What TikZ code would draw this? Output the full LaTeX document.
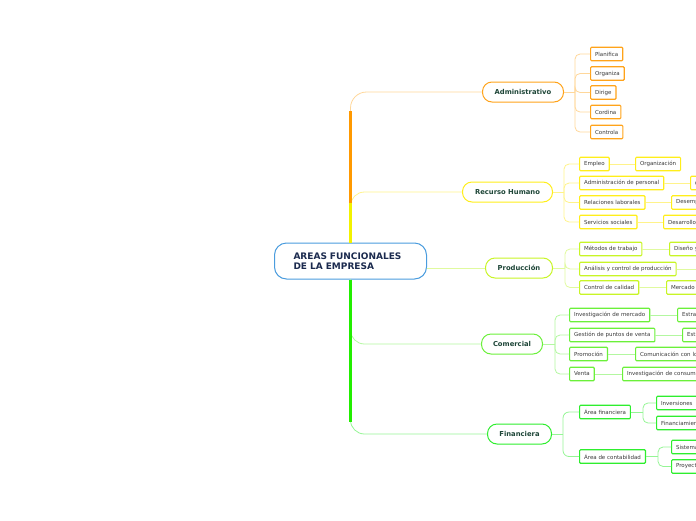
\documentclass[tikz,border=0pt]{standalone}
\usepackage{fontspec}
\setmainfont{DejaVu Sans}
\usetikzlibrary{positioning}

\definecolor{raizcol}{HTML}{4A9CDE}
\definecolor{raiztxt}{HTML}{1B2A4E}
\definecolor{ramatxt}{HTML}{1E4638}
\definecolor{hojatxt}{HTML}{3A3A3A}
\definecolor{admcol}{HTML}{FFA31A}
\definecolor{admclaro}{HTML}{FFD79A}
\definecolor{rhcol}{HTML}{FFEE1A}
\definecolor{rhclaro}{HTML}{FFF38A}
\definecolor{prodcol}{HTML}{C8F526}
\definecolor{prodclaro}{HTML}{E0FA9E}
\definecolor{comcol}{HTML}{6BF03A}
\definecolor{comclaro}{HTML}{B3F7A0}
\definecolor{fincol}{HTML}{2EEE2E}
\definecolor{finclaro}{HTML}{95F595}
\definecolor{troncoN}{HTML}{FF9900}
\definecolor{troncoA}{HTML}{F2F200}
\definecolor{troncoV}{HTML}{22EE00}

\begin{document}
\begin{tikzpicture}[x=1pt,y=-1pt,
  raiz/.style={draw=raizcol,line width=1pt,rounded corners=12pt,fill=white,
    minimum height=36pt,text width=114pt,inner xsep=19pt,align=left,
    font=\fontsize{9}{10.5}\selectfont\bfseries,text=raiztxt,anchor=west},
  rama/.style={draw=#1,line width=1pt,rounded corners=9.5pt,fill=white,
    minimum height=20pt,font=\fontsize{6.8}{8}\selectfont\bfseries,
    text=ramatxt,anchor=west},
  hoja/.style={draw=#1,line width=1.2pt,rounded corners=1pt,fill=white,
    minimum height=13.5pt,inner xsep=4.5pt,inner ysep=1pt,
    font=\fontsize{5.5}{6}\selectfont,text=hojatxt,anchor=west},
  corte/.style={text width=130pt,align=left},
  enlace/.style={draw=#1,line width=0.8pt},
  tronco/.style={draw=#1,line width=2.6pt}]
\useasboundingbox (0,0) rectangle (696,520);
\clip (0,0) rectangle (696,520);

% nodo central
\node[raiz] (raiz) at (274,261) {AREAS FUNCIONALES\\DE LA EMPRESA};

% ramas principales
\node[rama=admcol,minimum width=81pt] (adm) at (482,92) {Administrativo};
\node[rama=rhcol,minimum width=90pt] (rh) at (462,192) {Recurso Humano};
\node[rama=prodcol,minimum width=67pt] (prod) at (485,268) {Producción};
\node[rama=comcol,minimum width=61pt] (com) at (481,344) {Comercial};
\node[rama=fincol,minimum width=64pt] (fin) at (487,434) {Financiera};

% tronco
\draw[enlace=admclaro,rounded corners=16pt] (raiz.north) |- (adm.west);
\draw[enlace=rhclaro,rounded corners=14pt] (raiz.north) |- (rh.west);
\draw[enlace=prodclaro] (raiz.east |- prod.west) -- (prod.west);
\draw[enlace=comclaro,rounded corners=14pt] (raiz.south) |- (com.west);
\draw[enlace=finclaro,rounded corners=14pt] (raiz.south) |- (fin.west);
\draw[tronco=troncoA] (raiz.north) -- ++(0,-40) coordinate (t1);
\draw[tronco=troncoN] (t1) -- ++(0,-92);
\draw[tronco=troncoV] (raiz.south) -- ++(0,142);

% Administrativo
\draw[enlace=admclaro] (adm.east) -- ++(11,0) coordinate (admb);
\foreach \n/\y/\t in {a1/54/Planifica,a2/73.5/Organiza,a3/92.5/Dirige,
                      a4/112/Cordina,a5/132/Controla}{
  \node[hoja=admcol] (\n) at (590,\y) {\t};
  \draw[enlace=admclaro,rounded corners=5pt] (admb) |- (\n.west);
}

% Recurso Humano
\draw[enlace=rhclaro] (rh.east) -- ++(11,0) coordinate (rhb);
\foreach \n/\y/\t in {r1/164/Empleo,r2/183/Administración de personal,
                      r3/202.5/Relaciones laborales,r4/222/Servicios sociales}{
  \node[hoja=rhcol] (\n) at (579,\y) {\t};
  \draw[enlace=rhclaro,rounded corners=5pt] (rhb) |- (\n.west);
}
\node[hoja=rhcol] (r1a) at (635,164) {Organización};
\node[hoja=rhcol,corte] (r2a) at (690,183) {O};
\node[hoja=rhcol,corte] (r3a) at (671,202.5) {Desemp};
\node[hoja=rhcol,corte] (r4a) at (663,222) {Desarrollo};
\foreach \i in {1,...,4}
  \draw[enlace=rhclaro] (r\i.east) -- (r\i a.west);

% Producción
\draw[enlace=prodclaro] (prod.east) -- ++(12,0) coordinate (prodb);
\foreach \n/\y/\t in {p1/249/Métodos de trabajo,
                      p2/269/Análisis y control de producción,
                      p3/287.5/Control de calidad}{
  \node[hoja=prodcol] (\n) at (579,\y) {\t};
  \draw[enlace=prodclaro,rounded corners=5pt] (prodb) |- (\n.west);
}
\node[hoja=prodcol,corte] (p1a) at (669,249) {Diseño y};
\coordinate (p2a) at (700,269);
\node[hoja=prodcol,corte] (p3a) at (666,287.5) {Mercado};
\foreach \i in {1,...,3}
  \draw[enlace=prodclaro] (p\i.east) -- (p\i a.west);

% Comercial
\draw[enlace=comclaro] (com.east) -- ++(12,0) coordinate (comb);
\foreach \n/\y/\t in {c1/315/Investigación de mercado,
                      c2/335/Gestión de puntos de venta,
                      c3/354/Promoción,c4/374/Venta}{
  \node[hoja=comcol] (\n) at (569,\y) {\t};
  \draw[enlace=comclaro,rounded corners=5pt] (comb) |- (\n.west);
}
\node[hoja=comcol,corte] (c1a) at (677,315) {Estra};
\node[hoja=comcol,corte] (c2a) at (682,335) {Est};
\node[hoja=comcol,corte] (c3a) at (635,354) {Comunicación con lo};
\node[hoja=comcol,corte] (c4a) at (622,374) {Investigación de consumi};
\foreach \i in {1,...,4}
  \draw[enlace=comclaro] (c\i.east) -- (c\i a.west);

% Financiera
\draw[enlace=finclaro] (fin.east) -- ++(11,0) coordinate (finb);
\node[hoja=fincol] (f1) at (579,412) {Área financiera};
\node[hoja=fincol] (f2) at (579,456.5) {Área de contabilidad};
\draw[enlace=finclaro,rounded corners=6pt] (finb) |- (f1.west);
\draw[enlace=finclaro,rounded corners=6pt] (finb) |- (f2.west);
\draw[enlace=finclaro] (f1.east) -- ++(12,0) coordinate (f1b);
\draw[enlace=finclaro] (f2.east) -- ++(12,0) coordinate (f2b);
\node[hoja=fincol,corte] (f1a) at (656,403) {Inversiones};
\node[hoja=fincol,corte] (f1c) at (656,423) {Financiamien};
\node[hoja=fincol,corte] (f2a) at (671,447) {Sistema};
\node[hoja=fincol,corte] (f2c) at (671,466.5) {Proyect};
\draw[enlace=finclaro,rounded corners=5pt] (f1b) |- (f1a.west);
\draw[enlace=finclaro,rounded corners=5pt] (f1b) |- (f1c.west);
\draw[enlace=finclaro,rounded corners=5pt] (f2b) |- (f2a.west);
\draw[enlace=finclaro,rounded corners=5pt] (f2b) |- (f2c.west);
\end{tikzpicture}
\end{document}
